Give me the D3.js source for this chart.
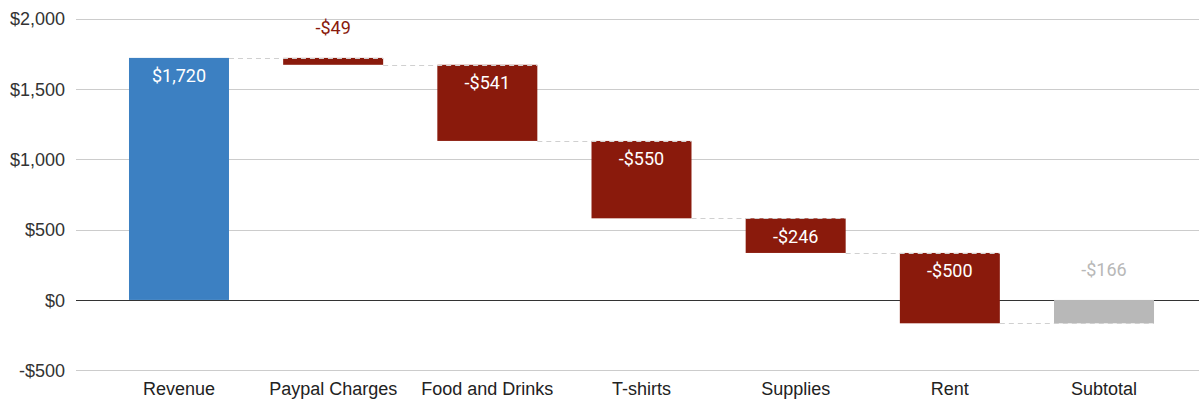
<!DOCTYPE html>
<html><head><meta charset="utf-8">
<script src="https://cdn.jsdelivr.net/npm/d3@7"></script>
<style>body{margin:0;background:#fff}svg{display:block}</style>
</head><body><svg id="c" width="1199" height="401"></svg>
<script>
const categories = ["Revenue","Paypal Charges","Food and Drinks","T-shirts","Supplies","Rent","Subtotal"];
const values = [1720,-49,-541,-550,-246,-500,-166];
const kinds = ["total","delta","delta","delta","delta","delta","subtotal"];
const yTicks = [-500,0,500,1000,1500,2000];

const colors = {total:"#3c80c2", delta:"#8a1a0c", subtotal:"#b8b8b8"};
const labelOutColors = {total:"#3c80c2", delta:"#8a1a0c", subtotal:"#b8b8b8"};

const svg = d3.select("#c");
const W = 1199, H = 401;
const y = d3.scaleLinear().domain([-500,2000]).range([370.3,18.5]);
const x = d3.scaleBand().domain(categories).range([101.9,1181.1]).paddingInner(0.3514).paddingOuter(0.1757);

// compute bars
let run = 0;
const bars = categories.map((c,i)=>{
  let y0,y1;
  if(kinds[i]==="total"){ y0=0; y1=values[i]; run=values[i]; }
  else if(kinds[i]==="subtotal"){ y0=0; y1=values[i]; run=values[i]; }
  else { y0=run; y1=run+values[i]; run=y1; }
  return {c,i,v:values[i],kind:kinds[i],y0,y1,end:run};
});

// grid
const grid = svg.append("g");
yTicks.forEach(t=>{
  grid.append("line").attr("x1",76).attr("x2",W).attr("y1",Math.round(y(t))+0.5).attr("y2",Math.round(y(t))+0.5)
    .attr("stroke", t===0?"#333":"#cccccc").attr("stroke-width",1);
});
const yAxis = d3.axisLeft(y).tickValues(yTicks).tickSize(0).tickPadding(0)
  .tickFormat(d=> (d<0?"-$":"$")+d3.format(",")(Math.abs(d)));
const ga = svg.append("g").attr("transform","translate(65,0)").call(yAxis);
ga.select(".domain").remove();
ga.selectAll("text").attr("font-family","'Liberation Sans', Arial, sans-serif").attr("font-size",18).attr("fill","#333").attr("dy","0.35em");

const xAxis = d3.axisBottom(x).tickSize(0).tickPadding(0);
const gx = svg.append("g").attr("transform","translate(0,382)").call(xAxis);
gx.select(".domain").remove();
gx.selectAll("text").attr("font-family","'Liberation Sans', Arial, sans-serif").attr("font-size",18).attr("fill","#222").attr("dy","0.71em");

// bars
svg.append("g").selectAll("rect").data(bars).join("rect")
  .attr("x",d=>x(d.c)).attr("width",x.bandwidth())
  .attr("y",d=>y(Math.max(d.y0,d.y1))).attr("height",d=>Math.abs(y(d.y0)-y(d.y1)))
  .attr("fill",d=>colors[d.kind]);

// connectors
const conn = svg.append("g");
bars.slice(0,-1).forEach((b,i)=>{
  const n = bars[i+1];
  const yy = Math.round(y(b.end))+0.5;
  conn.append("line").attr("x1",x(b.c)+x.bandwidth()).attr("x2",x(n.c)+x.bandwidth())
    .attr("y1",yy).attr("y2",yy).attr("stroke","#d0d0d0").attr("stroke-width",1).attr("stroke-dasharray","5,4");
});

// labels
const fmt = v => (v<0?"-$":"$")+d3.format(",")(Math.abs(v));
svg.append("g").selectAll("text").data(bars).join("text")
  .attr("x",d=>x(d.c)+x.bandwidth()/2)
  .attr("text-anchor","middle")
  .attr("font-family","Roboto, sans-serif").attr("font-size",18)
  .each(function(d){
    const top = y(Math.max(d.y0,d.y1));
    const h = Math.abs(y(d.y0)-y(d.y1));
    const inside = h>=30 && d.kind!=="subtotal";
    d3.select(this).attr("y", inside ? top+24.5 : top-23.5)
      .attr("fill", inside ? "#ffffff" : labelOutColors[d.kind]);
  })
  .text(d=>fmt(d.v));
</script></body></html>
